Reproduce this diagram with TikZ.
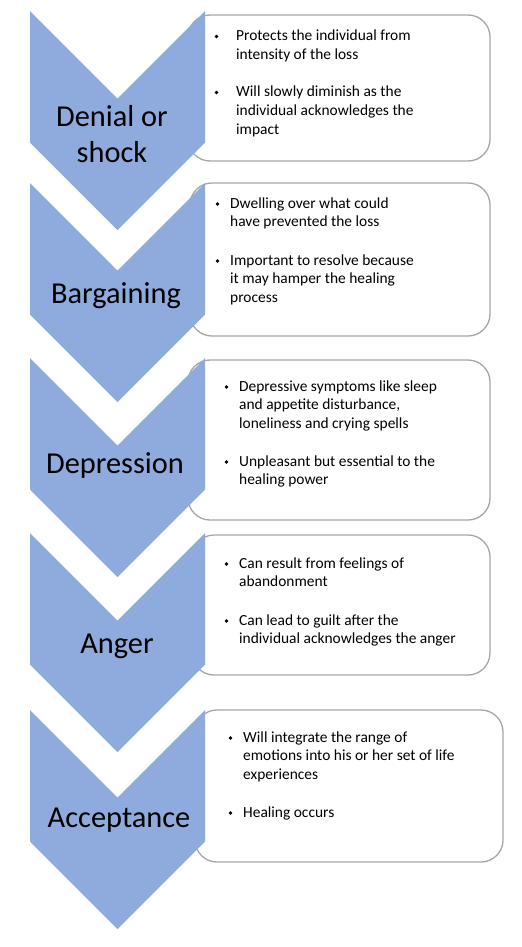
\documentclass[tikz,border=0pt]{standalone}
\usepackage{fontspec}
\setmainfont{Carlito}
\definecolor{chev}{HTML}{8FAADC}
\definecolor{boxline}{HTML}{A6A6A6}
\newcommand{\lns}[1]{\begin{tabular}[t]{@{}l@{}}#1\end{tabular}}
\newcommand{\clns}[1]{\begin{tabular}[t]{@{}c@{}}#1\end{tabular}}
\begin{document}
\begin{tikzpicture}[x=1bp,y=-1bp,
  chevron/.style={fill=chev, draw=none},
  infobox/.style={draw=boxline, line width=1.3bp, fill=white, rounded corners=22bp},
  stage/.style={font=\fontsize{30.5}{37}\selectfont, inner sep=0, anchor=base},
  item/.style={font=\fontsize{15.5}{19}\selectfont, inner sep=0, anchor=base west},
  bul/.style={circle, fill=black, draw=none, inner sep=0, minimum size=3.6bp}]
\useasboundingbox (0,0) rectangle (522,947);
\fill[white] (0,0) rectangle (522,947);
% boxes
\draw[infobox] (188,15) rectangle (490,161);
\draw[infobox] (190,183) rectangle (490,336);
\draw[infobox] (188,360) rectangle (490,520);
\draw[infobox] (192,535) rectangle (490,675);
\draw[infobox] (195,710) rectangle (503,862);
% chevrons
\foreach \t in {11,183,358,533,710}{
  \fill[chevron] (30,\t) -- (117.5,\t+87.5) -- (205,\t) -- (205,\t+131.5)
     -- (117.5,\t+219) -- (30,\t+131.5) -- cycle;
}
% stage labels
\node[stage] (s1) at (112,126) {\clns{Denial or\\shock}};
\node[stage] (s2) at (116,303) {Bargaining};
\node[stage] (s3) at (115,473) {Depression};
\node[stage] (s4) at (117,653) {Anger};
\node[stage] (s5) at (119,827) {Acceptance};
% box 1
\node[bul] (b1a) at (216.5,36.5) {};
\node[item] (t1a) at (236,40.5) {\lns{Protects the individual from\\intensity of the loss}};
\node[bul] (b1b) at (216.5,92.5) {};
\node[item] (t1b) at (236,96.5) {\lns{Will slowly diminish as the\\individual acknowledges the\\impact}};
% box 2
\node[bul] (b2a) at (217.5,204) {};
\node[item] (t2a) at (230,208) {\lns{Dwelling over what could\\have prevented the loss}};
\node[bul] (b2b) at (217.5,261) {};
\node[item] (t2b) at (230,265) {\lns{Important to resolve because\\it may hamper the healing\\process}};
% box 3
\node[bul] (b3a) at (226.5,387) {};
\node[item] (t3a) at (239,391) {\lns{Depressive symptoms like sleep\\and appetite disturbance,\\loneliness and crying spells}};
\node[bul] (b3b) at (226.5,462) {};
\node[item] (t3b) at (239,466) {\lns{Unpleasant but essential to the\\healing power}};
% box 4
\node[bul] (b4a) at (226.5,564) {};
\node[item] (t4a) at (239,568) {\lns{Can result from feelings of\\abandonment}};
\node[bul] (b4b) at (226.5,621) {};
\node[item] (t4b) at (239,625) {\lns{Can lead to guilt after the\\individual acknowledges the anger}};
% box 5
\node[bul] (b5a) at (230.5,738) {};
\node[item] (t5a) at (243,742) {\lns{Will integrate the range of\\emotions into his or her set of life\\experiences}};
\node[bul] (b5b) at (230.5,813) {};
\node[item] (t5b) at (243,817) {\lns{Healing occurs}};
\end{tikzpicture}
\end{document}
